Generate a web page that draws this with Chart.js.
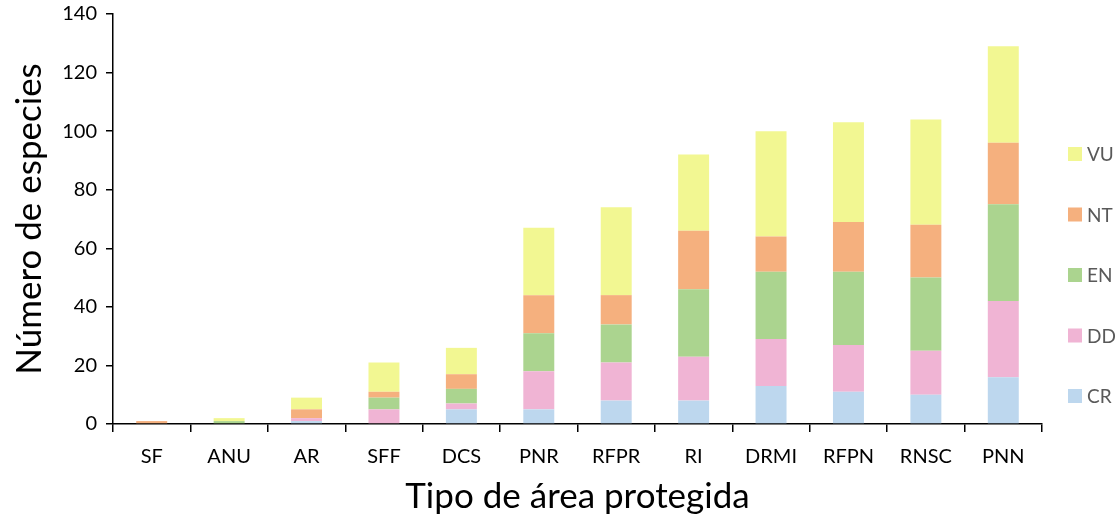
<!DOCTYPE html>
<html>
<head>
<meta charset="utf-8">
<script src="https://cdn.jsdelivr.net/npm/chart.js@4/dist/chart.umd.min.js"></script>
<style>
html,body{margin:0;padding:0;background:#fff;}
#wrap{width:1118px;height:523px;position:relative;}
</style>
</head>
<body>
<div id="wrap"><canvas id="c"></canvas></div>
<script>
const categories = ["SF","ANU","AR","SFF","DCS","PNR","RFPR","RI","DRMI","RFPN","RNSC","PNN"];
const CR = [0,0,1,0,5,5,8,8,13,11,10,16];
const DD = [0,0,1,5,2,13,13,15,16,16,15,26];
const EN = [0,1,0,4,5,13,13,23,23,25,25,33];
const NT = [1,0,3,2,5,13,10,20,12,17,18,21];
const VU = [0,1,4,10,9,23,30,26,36,34,36,33];
const seriesNames = ["CR","DD","EN","NT","VU"];
const seriesColors = ["#BDD7EE","#F0B4D4","#ABD48F","#F5B07E","#F2F792"];
const yTicks = [0,20,40,60,80,100,120,140];

const FONT = "Lato, 'Open Sans', sans-serif";
const seriesData = [CR, DD, EN, NT, VU];

const legendPlugin = {
  id: 'rightLegend',
  afterDraw(chart) {
    const ctx = chart.ctx;
    const ca = chart.chartArea;
    ctx.save();
    ctx.font = "19px " + FONT;
    ctx.textBaseline = 'middle';
    ctx.textAlign = 'left';
    const x = ca.right + 26;
    const centerY = 275;
    const step = 60.5;
    const n = chart.data.datasets.length;
    for (let i = n - 1; i >= 0; i--) {
      const ds = chart.data.datasets[i];
      const y = centerY + (i - 2) * -step;
      ctx.fillStyle = ds.backgroundColor;
      ctx.fillRect(x, y - 7, 14, 14);
      ctx.fillStyle = '#595959';
      ctx.fillText(ds.label, x + 19, y + 1);
    }
    ctx.restore();
  }
};

new Chart(document.getElementById('c'), {
  type: 'bar',
  data: {
    labels: categories,
    datasets: seriesNames.map((n, i) => ({
      label: n,
      data: seriesData[i],
      backgroundColor: seriesColors[i],
      borderWidth: 0,
      barPercentage: 0.4,
      categoryPercentage: 1.0
    }))
  },
  options: {
    responsive: true,
    maintainAspectRatio: false,
    animation: false,
    layout: { padding: { left: 5, right: 76, top: 14, bottom: 1 } },
    plugins: { legend: { display: false }, tooltip: { enabled: false } },
    scales: {
      x: {
        stacked: true,
        grid: { display: true, drawOnChartArea: false, drawTicks: true, tickLength: 8, color: '#000', lineWidth: 1.5, offset: true },
        border: { display: true, color: '#000', width: 1.5 },
        ticks: { color: '#000', font: { family: FONT, size: 20 }, padding: 13, maxRotation: 0, autoSkip: false },
        title: { display: true, text: 'Tipo de área protegida', color: '#000', font: { family: FONT, size: 35 }, padding: { top: 4, bottom: 4 } },
        afterFit(s) { s.height = 98; s.paddingLeft = 0; s.paddingRight = 0; }
      },
      y: {
        stacked: true,
        min: 0, max: 140,
        afterBuildTicks(s) { s.ticks = yTicks.map(v => ({ value: v })); },
        grid: { display: true, drawOnChartArea: false, drawTicks: true, tickLength: 7, color: '#000', lineWidth: 1.5 },
        border: { display: true, color: '#000', width: 1.5 },
        ticks: { color: '#000', font: { family: FONT, size: 20 }, padding: 9 },
        title: { display: true, text: 'Número de especies', color: '#000', font: { family: FONT, size: 35 }, padding: { top: 4, bottom: 4 } },
        afterFit(s) { s.width = 108; s.paddingTop = 0; s.paddingBottom = 0; }
      }
    }
  },
  plugins: [legendPlugin]
});
</script>
</body>
</html>
